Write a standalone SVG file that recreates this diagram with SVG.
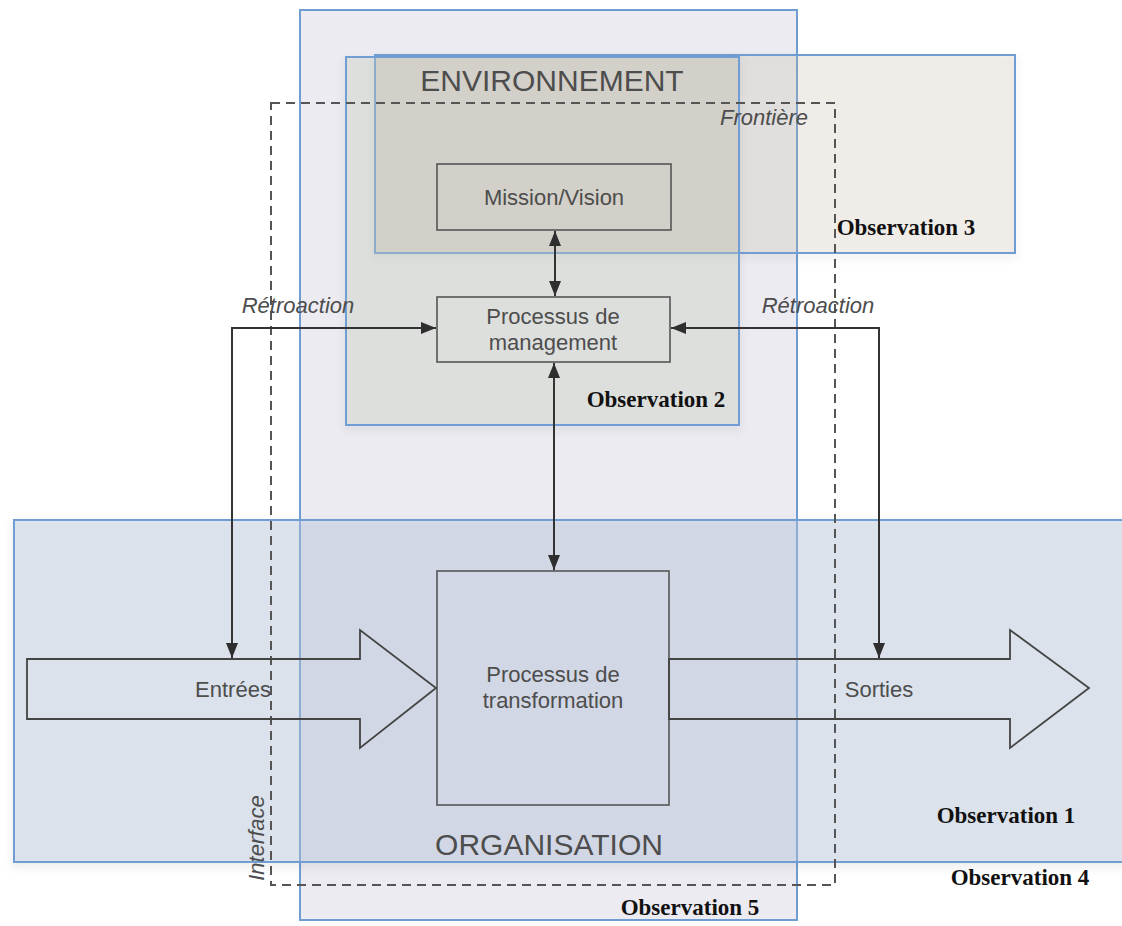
<svg xmlns="http://www.w3.org/2000/svg" width="1122" height="926" viewBox="0 0 1122 926">
<style>
.obs{stroke:#6f9dd3;stroke-width:2}
.box{fill:none;stroke:#555;stroke-width:1.6}
.sans{font-family:"Liberation Sans",Arial,sans-serif;fill:#4d4d4d}
.obsl{font-family:"Liberation Serif","Times New Roman",serif;font-weight:bold;font-size:23px;fill:#111}
.con{fill:none;stroke:#333;stroke-width:2}
.dash{fill:none;stroke:#555;stroke-width:2;stroke-dasharray:9 6}
.big{fill:none;stroke:#444;stroke-width:1.8}
</style>
<defs>
<marker id="ah" viewBox="0 0 15 12" refX="15" refY="6" markerWidth="15" markerHeight="12" markerUnits="userSpaceOnUse" orient="auto-start-reverse">
<path d="M0,0 L15,6 L0,12 Z" fill="#2e2e2e"/>
</marker>
<filter id="sh" x="-5%" y="-5%" width="110%" height="115%">
<feDropShadow dx="0" dy="4" stdDeviation="4" flood-color="#000" flood-opacity="0.12"/>
</filter>
</defs>
<rect width="1122" height="926" fill="#fff"/>
<g id="observation5">
<rect class="obs" x="300" y="10" width="497" height="910" fill="#e2e1ea" fill-opacity="0.65"/>
</g>
<g id="observation3">
<rect class="obs" x="375" y="55" width="640" height="198" fill="#c8b9aa" fill-opacity="0.22" filter="url(#sh)"/>
</g>
<g id="observation2">
<rect class="obs" x="346" y="57" width="393" height="368" fill="#c8d0be" fill-opacity="0.32" filter="url(#sh)"/>
</g>
<g id="environnement">
<rect x="376" y="58" width="362" height="194" fill="#b8a8a0" fill-opacity="0.12"/>
<text class="sans" x="552" y="91" font-size="30" text-anchor="middle">ENVIRONNEMENT</text>
</g>
<g id="observation1">
<rect class="obs" x="14" y="520" width="1120" height="342" fill="#b6c5dc" fill-opacity="0.42" filter="url(#sh)"/>
</g>
<g id="frontiere">
<rect class="dash" x="271" y="103" width="564" height="782"/>
<text class="sans" x="808" y="125" font-size="22" font-style="italic" text-anchor="end" fill="#777">Frontière</text>
<text class="sans" transform="translate(264,838) rotate(-90)" font-size="22" font-style="italic" text-anchor="middle">Interface</text>
</g>
<g id="mission">
<rect class="box" x="437" y="164" width="234" height="66"/>
<text class="sans" x="554" y="205" font-size="22" text-anchor="middle" fill="#666">Mission/Vision</text>
</g>
<g id="management">
<rect class="box" x="437" y="297" width="233" height="65"/>
<text class="sans" x="553" y="324" font-size="22" text-anchor="middle">Processus de</text>
<text class="sans" x="553" y="350" font-size="22" text-anchor="middle">management</text>
</g>
<g id="transformation">
<rect class="box" x="437" y="571" width="232" height="234"/>
<text class="sans" x="553" y="682" font-size="22" text-anchor="middle">Processus de</text>
<text class="sans" x="553" y="708" font-size="22" text-anchor="middle">transformation</text>
</g>
<g id="entrees">
<polygon class="big" points="27,659 360,659 360,630 436,688 360,748 360,719 27,719"/>
<text class="sans" x="233" y="697" font-size="22" text-anchor="middle" fill="#444">Entrées</text>
</g>
<g id="sorties">
<polygon class="big" points="669,659 1010,659 1010,630 1089,688 1010,748 1010,719 669,719"/>
<text class="sans" x="879" y="697" font-size="22" text-anchor="middle" fill="#444">Sorties</text>
</g>
<g id="connectors">
<line class="con" x1="555" y1="231" x2="555" y2="296" marker-start="url(#ah)" marker-end="url(#ah)"/>
<line class="con" x1="554" y1="363" x2="554" y2="570" marker-start="url(#ah)" marker-end="url(#ah)"/>
<polyline class="con" points="232,658 232,328 436,328" marker-start="url(#ah)" marker-end="url(#ah)"/>
<polyline class="con" points="879,658 879,328 671,328" marker-start="url(#ah)" marker-end="url(#ah)"/>
<text class="sans" x="298" y="313" font-size="22" font-style="italic" text-anchor="middle">Rétroaction</text>
<text class="sans" x="818" y="313" font-size="22" font-style="italic" text-anchor="middle">Rétroaction</text>
</g>
<g id="labels">
<text class="obsl" x="906" y="235" text-anchor="middle">Observation 3</text>
<text class="obsl" x="656" y="407" text-anchor="middle">Observation 2</text>
<text class="obsl" x="1006" y="823" text-anchor="middle">Observation 1</text>
<text class="obsl" x="1020" y="885" text-anchor="middle">Observation 4</text>
<text class="obsl" x="690" y="915" text-anchor="middle">Observation 5</text>
<text class="sans" x="549" y="855" font-size="30" text-anchor="middle">ORGANISATION</text>
</g>
</svg>
